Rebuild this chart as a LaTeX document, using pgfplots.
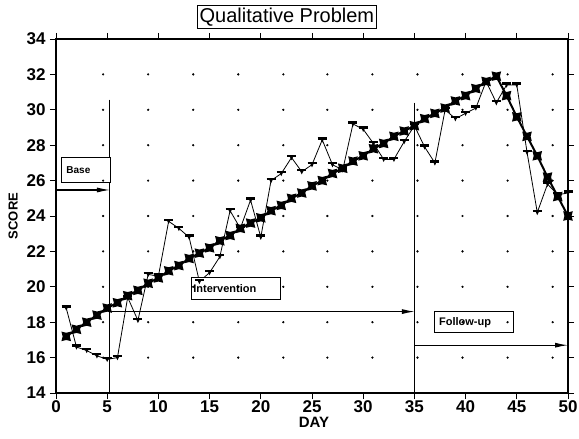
\documentclass[border=0pt]{standalone}
\usepackage{fontspec}
\setmainfont{Liberation Sans}
\usepackage{pgfplots}
\pgfplotsset{compat=1.18}
\usetikzlibrary{arrows.meta}

\pgfdeclareplotmark{starsq}{%
  \pgfpathmoveto{\pgfpoint{-\pgfplotmarksize}{-\pgfplotmarksize}}%
  \pgfpathlineto{\pgfpoint{0pt}{-0.75\pgfplotmarksize}}%
  \pgfpathlineto{\pgfpoint{\pgfplotmarksize}{-\pgfplotmarksize}}%
  \pgfpathlineto{\pgfpoint{0.75\pgfplotmarksize}{0pt}}%
  \pgfpathlineto{\pgfpoint{\pgfplotmarksize}{\pgfplotmarksize}}%
  \pgfpathlineto{\pgfpoint{0pt}{0.75\pgfplotmarksize}}%
  \pgfpathlineto{\pgfpoint{-\pgfplotmarksize}{\pgfplotmarksize}}%
  \pgfpathlineto{\pgfpoint{-0.75\pgfplotmarksize}{0pt}}%
  \pgfpathclose
  \pgfusepathqfill
}
\pgfdeclareplotmark{tee}{%
  \pgfsetlinewidth{2.4pt}%
  \pgfpathmoveto{\pgfpoint{-\pgfplotmarksize}{0.35\pgfplotmarksize}}%
  \pgfpathlineto{\pgfpoint{\pgfplotmarksize}{0.35\pgfplotmarksize}}%
  \pgfusepathqstroke
  \pgfpathmoveto{\pgfpoint{-0.45\pgfplotmarksize}{0.35\pgfplotmarksize}}%
  \pgfpathlineto{\pgfpoint{0.45\pgfplotmarksize}{0.35\pgfplotmarksize}}%
  \pgfpathlineto{\pgfpoint{0pt}{-0.6\pgfplotmarksize}}%
  \pgfpathclose
  \pgfusepathqfill
}

\pgfplotstableread{
day score
1 18.8
2 16.6
3 16.4
4 16.1
5 15.9
6 16.0
7 19.4
8 18.1
9 20.7
10 20.6
11 23.7
12 23.3
13 22.8
14 20.3
15 20.8
16 21.7
17 24.3
18 23.3
19 24.9
20 22.8
21 26.0
22 26.4
23 27.3
24 26.5
25 26.9
26 28.3
27 26.9
28 26.6
29 29.2
30 28.9
31 28.1
32 27.2
33 27.2
34 28.2
35 29.1
36 27.9
37 27.0
38 30.0
39 29.5
40 29.8
41 30.1
42 31.6
43 30.4
44 31.4
45 31.4
46 27.6
47 24.2
48 25.8
49 25.2
50 25.3
}\rawdata

\pgfplotstableread{
day score
1 17.2
2 17.6
3 18.0
4 18.4
5 18.8
6 19.1
7 19.5
8 19.8
9 20.2
10 20.5
11 20.9
12 21.2
13 21.6
14 21.9
15 22.2
16 22.6
17 22.9
18 23.3
19 23.6
20 23.9
21 24.3
22 24.6
23 25.0
24 25.3
25 25.7
26 26.0
27 26.4
28 26.7
29 27.1
30 27.4
31 27.8
32 28.1
33 28.5
34 28.8
35 29.1
36 29.5
37 29.8
38 30.1
39 30.5
40 30.8
41 31.2
42 31.6
43 31.9
44 30.8
45 29.6
46 28.5
47 27.4
48 26.2
49 25.1
50 24.0
}\trenddata

\begin{document}
\begin{tikzpicture}
\begin{axis}[
  scale only axis, width=512pt, height=354pt,
  xmin=0, xmax=50, ymin=14, ymax=34,
  xtick={0,5,...,50}, ytick={14,16,...,34},
  tick align=outside, major tick length=6pt,
  every tick/.style={black, line width=0.9pt},
  axis line style={line width=1.1pt},
  ticklabel style={font=\fontsize{17}{19}\selectfont\bfseries},
  xticklabel style={yshift=2pt},
  yticklabel style={xshift=-1pt},
  /pgf/number format/assume math mode=true,
  xlabel={DAY}, ylabel={SCORE},
  xlabel style={font=\fontsize{15}{17}\selectfont\bfseries, at={(rel axis cs:0.504,0)}, anchor=north, yshift=-24pt, inner sep=0pt},
  ylabel style={font=\fontsize{13}{15}\selectfont\bfseries, at={(rel axis cs:0,0.5)}, anchor=south, yshift=38pt, inner sep=0pt},
  clip=false,
]
\coordinate (sw) at (rel axis cs:0,0);
\coordinate (ne) at (rel axis cs:1,1);
% dot grid
\addplot[only marks, mark=*, mark size=0.9pt, black] coordinates {
(4.6,16)(9.0,16)(13.4,16)(17.8,16)(22.2,16)(26.5,16)(30.9,16)(35.3,16)(39.7,16)(44.1,16)(48.5,16)
(4.6,18)(9.0,18)(13.4,18)(17.8,18)(22.2,18)(26.5,18)(30.9,18)(35.3,18)(39.7,18)(44.1,18)(48.5,18)
(4.6,20)(9.0,20)(13.4,20)(17.8,20)(22.2,20)(26.5,20)(30.9,20)(35.3,20)(39.7,20)(44.1,20)(48.5,20)
(4.6,22)(9.0,22)(13.4,22)(17.8,22)(22.2,22)(26.5,22)(30.9,22)(35.3,22)(39.7,22)(44.1,22)(48.5,22)
(4.6,24)(9.0,24)(13.4,24)(17.8,24)(22.2,24)(26.5,24)(30.9,24)(35.3,24)(39.7,24)(44.1,24)(48.5,24)
(4.6,26)(9.0,26)(13.4,26)(17.8,26)(22.2,26)(26.5,26)(30.9,26)(35.3,26)(39.7,26)(44.1,26)(48.5,26)
(4.6,28)(9.0,28)(13.4,28)(17.8,28)(22.2,28)(26.5,28)(30.9,28)(35.3,28)(39.7,28)(44.1,28)(48.5,28)
(4.6,30)(9.0,30)(13.4,30)(17.8,30)(22.2,30)(26.5,30)(30.9,30)(35.3,30)(39.7,30)(44.1,30)(48.5,30)
(4.6,32)(9.0,32)(13.4,32)(17.8,32)(22.2,32)(26.5,32)(30.9,32)(35.3,32)(39.7,32)(44.1,32)(48.5,32)
};
% phase lines and arrows
\draw[line width=1pt] (axis cs:5.27,30.57) -- (axis cs:5.27,14);
\draw[line width=1pt] (axis cs:35.05,30.4) -- (axis cs:35.05,14);
\draw[line width=1.1pt, -{Latex[length=13pt,width=5pt]}] (axis cs:0,25.47) -- (axis cs:5.27,25.47);
\draw[line width=1.1pt, -{Latex[length=13pt,width=5pt]}] (axis cs:5.27,18.6) -- (axis cs:35.05,18.6);
\draw[line width=1.1pt, -{Latex[length=13pt,width=5pt]}] (axis cs:35.05,16.7) -- (axis cs:50,16.7);
% series
\addplot[black, line width=0.8pt, mark=tee, mark size=4.5pt] table[x=day, y=score] {\rawdata};
\addplot[black, line width=2pt, mark=starsq, mark size=4.8pt] table[x=day, y=score] {\trenddata};
% phase labels
\draw[line width=0.9pt, fill=white] (axis cs:0.55,25.9) rectangle (axis cs:5.27,27.3);
\node[anchor=west, font=\fontsize{10}{12}\selectfont\bfseries, inner sep=1pt] at (axis cs:0.9,26.6) {Base};
\draw[line width=0.9pt, fill=white] (axis cs:13.2,19.3) rectangle (axis cs:21.9,20.5);
\node[anchor=west, font=\fontsize{11}{13}\selectfont\bfseries, inner sep=1pt] at (axis cs:13.3,19.9) {Intervention};
\draw[line width=0.9pt, fill=white] (axis cs:37.0,17.4) rectangle (axis cs:44.7,18.6);
\node[anchor=west, font=\fontsize{11}{13}\selectfont\bfseries, inner sep=1pt] at (axis cs:37.3,18.0) {Follow-up};
% title
\node[draw, line width=0.9pt, anchor=center, font=\fontsize{20}{22}\selectfont, inner sep=2.5pt] at (rel axis cs:0.451,1) [yshift=22pt] {Qualitative Problem};
\end{axis}
\pgfresetboundingbox
\path ([shift={(-56pt,-45pt)}]sw) rectangle ([shift={(11pt,39pt)}]ne);
\end{tikzpicture}
\end{document}
